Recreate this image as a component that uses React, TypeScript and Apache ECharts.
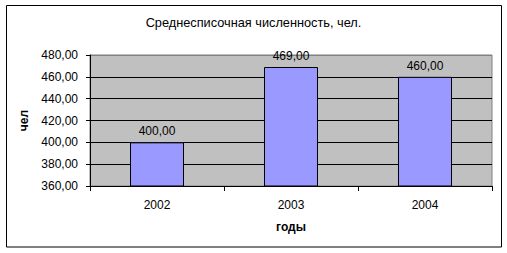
import React, { useEffect, useRef } from "react";
import * as echarts from "echarts";

const categories = ["2002", "2003", "2004"];
const values = [400, 469, 460];
const titleText = "Среднесписочная численность, чел.";
const yName = "чел";
const xName = "годы";

const fmt = (v: number) => v.toFixed(2).replace(".", ",");
const FONT = "'Liberation Sans', Arial, sans-serif";

export default function App() {
  const ref = useRef<HTMLDivElement>(null);
  useEffect(() => {
    document.body.style.margin = "0";
    const chart = echarts.init(ref.current!, null, { renderer: "svg" });
    chart.setOption({
      animation: false,
      backgroundColor: "#ffffff",
      title: {
        text: titleText,
        left: "center",
        top: 11,
        textStyle: { fontSize: 12.75, fontWeight: "normal", color: "#000", fontFamily: FONT },
      },
      graphic: [
        {
          type: "rect",
          shape: { x: 6.5, y: 5.5, width: 495, height: 241.5 },
          style: { fill: "none", stroke: "#000", lineWidth: 1 },
          z: 100,
        },
      ],
      grid: {
        left: 90,
        right: 15,
        top: 55,
        bottom: 67,
        show: true,
        backgroundColor: "#C0C0C0",
        borderColor: "#808080",
        borderWidth: 1,
      },
      xAxis: {
        type: "category",
        data: categories,
        name: xName,
        nameLocation: "middle",
        nameGap: 35,
        nameTextStyle: { fontSize: 12, fontWeight: "bold", color: "#000", fontFamily: FONT },
        axisLine: { lineStyle: { color: "#000", width: 1 } },
        axisTick: { show: true, length: 5, lineStyle: { color: "#000" } },
        axisLabel: { fontSize: 12, color: "#000", margin: 13, fontFamily: FONT },
      },
      yAxis: {
        type: "value",
        min: 360,
        max: 480,
        interval: 20,
        name: yName,
        nameLocation: "middle",
        nameRotate: 90,
        nameGap: 56,
        nameTextStyle: { fontSize: 12, fontWeight: "bold", color: "#000", fontFamily: FONT },
        axisLine: { show: true, lineStyle: { color: "#000", width: 1 } },
        axisTick: { show: true, length: 4, lineStyle: { color: "#000" } },
        axisLabel: { fontSize: 12, color: "#000", margin: 12, fontFamily: FONT, formatter: (v: number) => fmt(v) },
        splitLine: {
          show: true,
          lineStyle: { color: ["#000", "#000", "#000", "#000", "#000", "#000", "#808080"], width: 1 },
        },
      },
      series: [
        {
          type: "bar",
          data: values,
          barWidth: 54,
          itemStyle: { color: "#9999FF", borderColor: "#000", borderWidth: 1 },
          label: {
            show: true,
            position: "top",
            distance: 5,
            fontSize: 12,
            color: "#000",
            fontFamily: FONT,
            formatter: (p: any) => fmt(p.value),
          },
        },
      ],
    });
    return () => chart.dispose();
  }, []);
  return <div ref={ref} style={{ width: 507, height: 253 }} />;
}
